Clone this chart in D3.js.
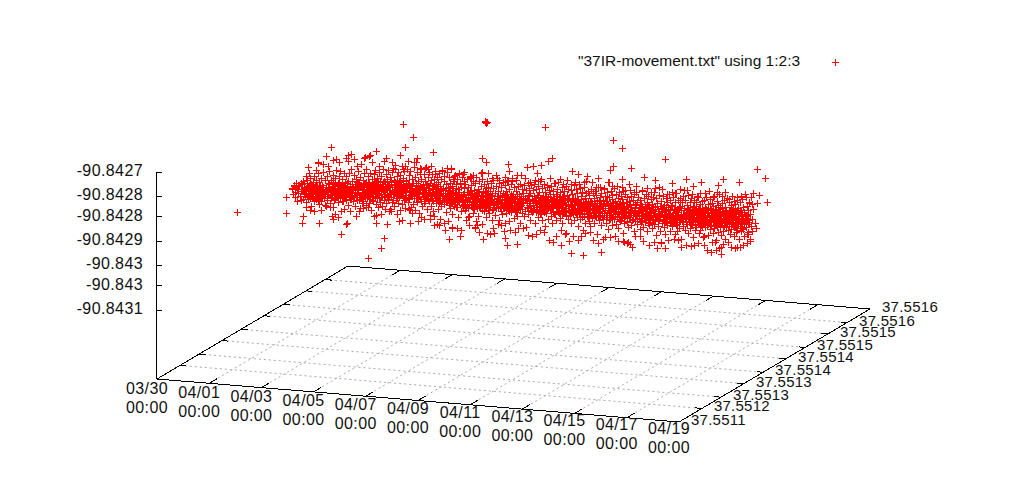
<!DOCTYPE html>
<html><head><meta charset="utf-8">
<script src="https://cdn.jsdelivr.net/npm/d3@7"></script>
<style>html,body{margin:0;background:#fff}svg{display:block}text{font-family:"Liberation Sans",sans-serif;font-size:16px;fill:#111}</style>
</head><body><svg id="c" width="1024" height="500"></svg>
<script>
const seriesName='"37IR-movement.txt" using 1:2:3';
const dateTicks=[0,2,4,6,8,10,12,14,16,18,20];
const dateLabels=["03/30","04/01","04/03","04/05","04/07","04/09","04/11","04/13","04/15","04/17","04/19"];
const latTicks=[37.5511,37.55116,37.55121,37.55127,37.55132,37.55138,37.55143,37.55149,37.55154,37.5516];
const latLabels=["37.5511","37.5512","37.5513","37.5513","37.5514","37.5514","37.5515","37.5515","37.5516","37.5516"];
const lonTicks=[-90.8427,-90.84277,-90.84283,-90.8429,-90.84297,-90.84303,-90.8431];
const lonLabels=["-90.8427","-90.8428","-90.8428","-90.8429","-90.843","-90.843","-90.8431"];
const latCentre=37.55135;
// days after 03/30, main cloud
const days=[
1.50,1.53,1.55,1.58,1.60,1.61,1.63,1.66,1.68,1.69,1.72,1.74,1.75,1.78,1.79,1.81,1.84,1.85,1.87,1.88,1.91,1.92,1.94,1.96,1.97,
1.99,2.01,2.02,2.05,2.06,2.08,2.10,2.11,2.13,2.16,2.17,2.19,2.20,2.22,2.25,2.26,2.28,2.29,2.32,2.33,2.35,2.37,2.38,2.40,2.42,
2.44,2.45,2.47,2.50,2.51,2.53,2.55,2.56,2.59,2.60,2.62,2.64,2.65,2.68,2.69,2.71,2.73,2.74,2.76,2.78,2.80,2.81,2.84,2.85,2.87,
2.89,2.90,2.93,2.94,2.96,2.98,3.00,3.01,3.03,3.05,3.07,3.08,3.10,3.12,3.14,3.15,3.17,3.19,3.21,3.22,3.24,3.26,3.28,3.30,3.31,
3.33,3.35,3.36,3.39,3.40,3.42,3.44,3.45,3.47,3.49,3.51,3.53,3.54,3.56,3.58,3.60,3.61,3.63,3.65,3.67,3.69,3.70,3.72,3.74,3.75,
3.78,3.79,3.81,3.83,3.84,3.86,3.89,3.90,3.92,3.93,3.96,3.97,3.99,4.01,4.03,4.04,4.06,4.08,4.10,4.11,4.13,4.15,4.17,4.18,4.20,
4.22,4.24,4.25,4.27,4.29,4.31,4.33,4.34,4.36,4.38,4.39,4.41,4.43,4.45,4.47,4.48,4.50,4.52,4.54,4.55,4.57,4.59,4.61,4.62,4.64,
4.66,4.68,4.69,4.71,4.73,4.75,4.77,4.78,4.80,4.82,4.83,4.85,4.87,4.89,4.91,4.92,4.94,4.96,4.98,4.99,5.01,5.03,5.05,5.06,5.08,
5.10,5.12,5.13,5.15,5.17,5.19,5.21,5.22,5.24,5.26,5.27,5.29,5.31,5.33,5.35,5.36,5.38,5.40,5.42,5.43,5.45,5.47,5.49,5.50,5.52,
5.54,5.56,5.57,5.59,5.61,5.63,5.65,5.66,5.68,5.70,5.71,5.73,5.75,5.77,5.79,5.80,5.82,5.84,5.86,5.87,5.89,5.91,5.93,5.94,5.96,
5.98,6.00,6.01,6.03,6.05,6.07,6.09,6.10,6.12,6.14,6.15,6.17,6.19,6.21,6.23,6.24,6.26,6.28,6.30,6.31,6.33,6.35,6.37,6.38,6.40,
6.42,6.44,6.45,6.47,6.49,6.51,6.53,6.54,6.56,6.58,6.59,6.61,6.63,6.65,6.67,6.68,6.70,6.72,6.74,6.75,6.77,6.79,6.81,6.82,6.84,
6.86,6.88,6.89,6.91,6.93,6.95,6.97,6.98,7.00,7.02,7.03,7.05,7.07,7.09,7.11,7.12,7.14,7.16,7.18,7.19,7.21,7.23,7.25,7.26,7.28,
7.30,7.32,7.33,7.35,7.37,7.39,7.41,7.42,7.44,7.46,7.47,7.49,7.51,7.53,7.55,7.56,7.58,7.60,7.62,7.63,7.65,7.67,7.69,7.70,7.72,
7.74,7.76,7.77,7.79,7.81,7.83,7.85,7.86,7.88,7.90,7.91,7.93,7.95,7.97,7.99,8.00,8.02,8.04,8.06,8.07,8.09,8.11,8.13,8.14,8.16,
8.18,8.20,8.21,8.23,8.25,8.27,8.29,8.30,8.32,8.34,8.35,8.37,8.39,8.41,8.43,8.44,8.46,8.48,8.50,8.51,8.53,8.55,8.57,8.58,8.60,
8.62,8.64,8.65,8.67,8.69,8.71,8.73,8.74,8.76,8.78,8.79,8.81,8.83,8.85,8.87,8.88,8.90,8.92,8.94,8.95,8.97,8.99,9.01,9.02,9.04,
9.06,9.08,9.09,9.11,9.13,9.15,9.17,9.18,9.20,9.22,9.23,9.25,9.27,9.29,9.31,9.32,9.34,9.36,9.38,9.39,9.41,9.43,9.45,9.46,9.48,
9.50,9.52,9.53,9.55,9.57,9.59,9.61,9.62,9.64,9.66,9.67,9.69,9.71,9.73,9.75,9.76,9.78,9.80,9.82,9.83,9.85,9.87,9.89,9.90,9.92,
9.94,9.96,9.97,9.99,10.01,10.03,10.05,10.06,10.08,10.10,10.11,10.13,10.15,10.17,10.19,10.20,10.22,10.24,10.26,10.27,10.29,10.31,10.33,10.34,10.36,
10.38,10.40,10.41,10.43,10.45,10.47,10.49,10.50,10.52,10.54,10.55,10.57,10.59,10.61,10.63,10.64,10.66,10.68,10.70,10.71,10.73,10.75,10.77,10.78,10.80,
10.82,10.84,10.85,10.87,10.89,10.91,10.93,10.94,10.96,10.98,10.99,11.01,11.03,11.05,11.07,11.08,11.10,11.12,11.14,11.15,11.17,11.19,11.21,11.22,11.24,
11.26,11.28,11.29,11.31,11.33,11.35,11.37,11.38,11.40,11.42,11.43,11.45,11.47,11.49,11.51,11.52,11.54,11.56,11.58,11.59,11.61,11.63,11.65,11.66,11.68,
11.70,11.72,11.73,11.75,11.77,11.79,11.81,11.82,11.84,11.86,11.87,11.89,11.91,11.93,11.95,11.96,11.98,12.00,12.02,12.03,12.05,12.07,12.09,12.10,12.12,
12.14,12.16,12.17,12.19,12.21,12.23,12.25,12.26,12.28,12.30,12.31,12.33,12.35,12.37,12.39,12.40,12.42,12.44,12.46,12.47,12.49,12.51,12.53,12.54,12.56,
12.58,12.60,12.61,12.63,12.65,12.67,12.69,12.70,12.72,12.74,12.75,12.77,12.79,12.81,12.83,12.84,12.86,12.88,12.90,12.91,12.93,12.95,12.97,12.98,13.00,
13.02,13.04,13.05,13.07,13.09,13.11,13.13,13.14,13.16,13.18,13.19,13.21,13.23,13.25,13.27,13.28,13.30,13.32,13.34,13.35,13.37,13.39,13.41,13.42,13.44,
13.46,13.48,13.49,13.51,13.53,13.55,13.57,13.58,13.60,13.62,13.63,13.65,13.67,13.69,13.71,13.72,13.74,13.76,13.78,13.79,13.81,13.83,13.85,13.86,13.88,
13.90,13.92,13.93,13.95,13.97,13.99,14.01,14.02,14.04,14.06,14.07,14.09,14.11,14.13,14.15,14.16,14.18,14.20,14.22,14.23,14.25,14.27,14.29,14.30,14.32,
14.34,14.36,14.37,14.39,14.41,14.43,14.45,14.46,14.48,14.50,14.51,14.53,14.55,14.57,14.59,14.60,14.62,14.64,14.66,14.67,14.69,14.71,14.73,14.74,14.76,
14.78,14.80,14.81,14.83,14.85,14.87,14.89,14.90,14.92,14.94,14.95,14.97,14.99,15.01,15.03,15.04,15.06,15.08,15.10,15.11,15.13,15.15,15.17,15.18,15.20,
15.22,15.24,15.25,15.27,15.29,15.31,15.33,15.34,15.36,15.38,15.39,15.41,15.43,15.45,15.47,15.48,15.50,15.52,15.54,15.55,15.57,15.59,15.61,15.62,15.64,
15.66,15.68,15.69,15.71,15.73,15.75,15.77,15.78,15.80,15.82,15.83,15.85,15.87,15.89,15.91,15.92,15.94,15.96,15.98,15.99,16.01,16.03,16.05,16.06,16.08,
16.10,16.12,16.13,16.15,16.17,16.19,16.21,16.22,16.24,16.26,16.27,16.29,16.31,16.33,16.35,16.36,16.38,16.40,16.42,16.43,16.45,16.47,16.49,16.50,16.52,
16.54,16.56,16.57,16.59,16.61,16.63,16.65,16.66,16.68,16.70,16.71,16.73,16.75,16.77,16.79,16.80,16.82,16.84,16.86,16.87,16.89,16.91,16.93,16.94,16.96,
16.98,17.00,17.01,17.03,17.05,17.07,17.09,17.10,17.12,17.14,17.15,17.17,17.19,17.21,17.23,17.24,17.26,17.28,17.30,17.31,17.33,17.35,17.37,17.38,17.40,
17.42,17.44,17.45,17.47,17.49,17.51,17.53,17.54,17.56,17.58,17.59,17.61,17.63,17.65,17.67,17.68,17.70,17.72,17.74,17.75,17.77,17.79,17.81,17.82,17.84,
17.86,17.88,17.89,17.91,17.93,17.95,17.97,17.98,18.00,18.02,18.03,18.05,18.07,18.09,18.11,18.12,18.14,18.16,18.18,18.19,18.21,18.23,18.25,18.26,18.28,
18.30,18.32,18.33,18.35,18.37,18.39,18.41,18.42,18.44,18.46,18.47,18.49,18.51,18.53,18.55,18.56,18.58,18.60,18.62,18.63,18.65,18.67,18.69,18.70,18.72,
18.74,18.76,18.77,18.79,18.81,18.83,18.85,18.86,18.88,18.90,18.91,18.93,18.95,18.97,18.99,19.00,19.02,19.04,19.06,19.07,19.09,19.11,19.13,19.14,19.16
];
// millionths of a degree west of -90.842, main cloud
const lonMicro=[
905,900,918,894,892,911,927,898,886,903,936,891,915,893,889,922,901,885,934,908,887,930,879,913,896,
882,920,906,864,938,895,874,912,929,853,889,917,901,868,947,884,910,923,877,899,862,933,891,914,905,
871,926,888,909,852,940,897,876,918,903,865,931,884,913,895,848,922,907,870,942,889,901,858,916,928,
879,905,893,843,934,912,867,921,886,899,853,945,874,908,926,862,891,917,838,903,882,930,910,856,895,
872,918,841,900,887,927,863,909,879,950,846,893,914,870,924,854,902,885,936,868,911,844,897,920,876,
889,831,907,865,925,883,848,912,896,939,858,873,904,921,835,890,867,916,881,943,852,909,876,898,928,
861,886,920,840,903,869,933,892,827,912,877,849,905,925,864,894,838,915,882,946,856,899,871,918,842,
886,908,829,865,927,891,851,910,875,936,834,897,862,919,880,845,906,872,931,823,889,858,914,868,901,
839,922,878,852,896,909,826,869,884,937,846,903,861,917,831,875,892,911,853,928,820,887,866,899,842,
905,873,830,918,857,889,940,836,864,896,812,922,878,845,908,868,826,884,931,850,901,818,873,913,859,
892,834,905,867,822,879,926,846,895,856,917,810,884,871,936,839,900,863,825,911,876,851,888,944,830,
866,903,843,815,880,923,857,893,829,870,914,848,886,808,897,861,930,837,875,906,822,853,890,919,844,
878,827,901,862,935,841,884,816,868,910,854,894,833,927,872,847,905,821,881,859,918,838,899,813,865,
886,843,912,829,870,896,853,934,818,877,905,862,831,890,848,922,874,806,883,857,939,836,898,868,842,
908,825,879,851,916,889,834,864,945,872,817,901,845,885,928,856,892,829,911,876,838,861,897,923,847,
884,906,870,832,917,855,895,941,866,823,888,908,848,874,931,836,899,862,919,881,843,953,873,826,905,
891,858,936,869,837,913,884,849,902,961,875,828,895,864,921,842,910,880,855,938,833,897,871,917,850,
888,925,861,903,839,876,946,893,853,915,829,884,907,867,931,845,898,875,822,911,859,943,886,836,902,
870,918,849,891,927,834,864,907,881,952,842,897,858,923,873,830,912,888,946,851,876,903,838,919,865,
893,827,908,874,936,845,886,915,857,899,823,871,929,841,905,863,883,948,834,894,877,918,849,906,860,
889,926,838,873,911,852,958,880,900,829,867,921,844,892,936,858,908,835,876,914,848,886,831,903,866,
943,883,912,846,897,861,925,836,878,905,854,889,820,917,870,934,842,899,863,909,828,886,951,851,874,
911,838,895,867,928,845,881,903,857,919,832,890,873,940,848,907,824,866,913,884,855,931,839,896,872,
906,821,886,862,923,847,899,875,938,833,912,858,881,904,843,968,869,893,829,917,855,887,925,838,901,
864,880,912,841,936,870,896,852,909,825,884,927,861,903,837,874,918,848,943,890,866,908,833,879,922,
855,897,842,915,872,954,887,828,905,860,931,846,893,876,912,838,882,925,851,899,867,940,831,908,874,
917,844,889,859,929,836,901,871,913,848,962,883,895,826,866,921,853,906,878,935,841,892,861,915,873,
830,903,848,885,926,864,911,838,897,875,944,852,919,869,889,834,908,857,932,845,900,879,824,915,862,
893,841,927,872,906,851,885,938,833,899,866,917,846,880,910,855,952,829,891,874,923,840,903,863,887,
919,846,876,934,858,905,827,893,870,928,842,883,911,853,897,836,945,866,914,878,831,900,859,922,888,
843,908,874,936,851,889,917,864,897,826,881,929,845,903,868,915,833,891,876,941,855,907,838,923,872,
885,913,848,896,861,932,840,879,905,827,918,869,887,950,843,899,856,925,874,910,834,893,865,937,882,
849,914,871,902,836,926,860,890,945,878,841,908,853,919,867,884,829,901,934,874,846,911,893,858,921,
836,889,906,869,942,851,897,825,915,878,933,844,886,908,862,923,838,895,955,871,849,903,830,917,884,
864,928,842,897,875,911,855,888,936,827,902,869,921,847,890,834,913,881,948,858,904,873,839,926,866,
893,918,846,880,907,831,935,862,897,851,924,874,888,913,840,901,868,943,836,883,915,856,892,829,909,
871,939,848,905,878,920,834,894,861,912,843,886,930,853,899,824,917,875,908,864,951,838,889,926,847,
902,868,816,913,881,935,842,896,857,922,875,905,831,888,944,851,910,866,893,825,919,879,838,906,860,
928,846,887,914,872,818,899,856,934,880,908,841,868,923,894,829,911,876,852,941,886,835,903,864,917,
874,826,895,912,849,931,862,884,810,906,871,925,843,897,857,919,833,889,938,868,902,816,880,915,851,
896,904,858,873,898,860,887,905,861,891,869,896,878,866,893,904,875,870,892,885,884,888,882,879,876
];
// extra points where the cloud reads as solid red
const coreDays=[
1.93,1.97,2.04,2.08,2.12,2.15,2.19,2.21,2.24,2.27,2.30,2.33,2.36,2.38,2.41,2.43,2.46,2.48,2.51,2.53,2.55,2.57,2.59,2.62,
3.02,3.05,3.08,3.13,3.16,3.18,3.22,3.25,3.27,3.31,3.34,3.36,3.39,3.42,3.45,3.48,3.50,3.53,3.57,3.60,3.62,3.67,3.71,3.76,
4.02,4.06,4.09,4.14,4.18,4.21,4.24,4.29,4.33,4.35,4.38,4.43,4.46,4.49,4.53,4.56,4.60,4.63,4.67,4.71,4.74,4.79,4.83,4.88,
5.01,5.05,5.08,5.12,5.17,5.20,5.24,5.28,5.31,5.34,5.38,5.41,5.45,5.49,5.52,5.55,5.59,5.63,5.66,5.71,5.74,5.78,5.83,5.88,
6.02,6.05,6.09,6.13,6.18,6.21,6.25,6.28,6.32,6.36,6.39,6.43,6.46,6.50,6.54,6.57,6.60,6.64,6.68,6.71,6.75,6.79,6.84,6.89,
7.03,7.07,7.10,7.15,7.18,7.22,7.27,7.31,7.34,7.37,7.41,7.45,7.48,7.52,7.56,7.59,7.62,7.66,7.70,7.73,7.77,7.81,7.85,7.89,
8.22,8.26,8.31,8.35,8.38,8.42,8.46,8.51,8.54,8.57,8.61,8.65,8.68,8.72,8.75,8.78,8.81,8.85,8.88,8.92,8.96,9.01,9.07,9.14,
9.51,9.55,9.58,9.62,9.66,9.69,9.73,9.76,9.79,9.83,9.87,9.90,9.94,9.98,10.01,10.05,10.08,10.12,10.16,10.20,10.24,10.28,10.33,10.38,
10.62,10.66,10.69,10.73,10.76,10.79,10.82,10.85,10.88,10.91,10.94,10.97,11.00,11.04,11.07,11.10,11.13,11.16,11.20,11.24,11.28,11.33,11.39,11.46,
11.61,11.65,11.68,11.72,11.75,11.79,11.83,11.86,11.89,11.93,11.96,12.00,12.03,12.07,12.10,12.13,12.17,12.20,12.24,12.27,12.30,12.34,12.37,12.41,
12.62,12.66,12.70,12.74,12.77,12.81,12.85,12.88,12.91,12.95,12.98,13.02,13.05,13.09,13.12,13.15,13.18,13.21,13.24,13.27,13.30,13.33,13.36,13.40,
13.61,13.65,13.68,13.72,13.76,13.79,13.83,13.87,13.90,13.94,13.97,14.01,14.04,14.08,14.11,14.15,14.18,14.21,14.25,14.28,14.31,14.34,14.37,14.41,
14.62,14.65,14.69,14.72,14.75,14.79,14.82,14.86,14.89,14.92,14.96,15.00,15.03,15.06,15.09,15.12,15.16,15.19,15.23,15.26,15.29,15.33,15.36,15.40,
15.62,15.66,15.70,15.73,15.77,15.81,15.84,15.87,15.91,15.94,15.98,16.02,16.05,16.09,16.12,16.16,16.19,16.22,16.26,16.29,16.32,16.35,16.38,16.41,
16.63,16.67,16.70,16.74,16.77,16.80,16.84,16.88,16.91,16.94,16.98,17.01,17.04,17.08,17.11,17.14,17.18,17.21,17.25,17.28,17.31,17.34,17.37,17.40,
17.60,17.63,17.65,17.68,17.71,17.73,17.75,17.78,17.80,17.83,17.86,17.88,17.91,17.93,17.96,17.99,18.01,18.03,18.06,18.08,18.11,18.14,18.17,18.20,
18.31,18.34,18.36,18.39,18.42,18.45,18.48,18.50,18.53,18.55,18.58,18.61,18.63,18.66,18.69,18.71,18.74,18.77,18.80,18.83,18.86,18.90,18.94,18.99
];
const coreLonMicro=[
908,915,897,921,903,889,912,926,895,906,884,918,901,893,924,909,887,913,899,920,905,891,917,902,
897,912,880,905,921,889,899,915,876,907,893,918,885,902,925,890,910,873,898,914,883,906,894,919,
884,896,871,905,889,915,878,899,866,892,908,881,874,901,886,917,869,893,880,904,863,888,910,876,
875,889,862,881,897,868,905,873,857,885,894,866,878,910,860,883,871,899,853,877,890,864,902,879,
880,893,866,874,902,885,858,890,871,899,877,863,908,883,869,895,874,856,888,903,867,879,892,861,
890,874,901,882,866,911,893,879,905,871,887,897,863,913,884,876,899,868,892,907,881,873,916,886,
895,880,908,886,872,899,914,877,891,903,868,884,910,896,875,889,919,881,905,866,893,878,900,887,
891,876,904,884,869,897,912,880,893,907,873,888,899,864,902,885,916,878,894,870,908,882,890,875,
886,901,874,893,911,867,884,897,879,905,863,889,914,876,892,871,899,883,908,866,895,880,903,888,
879,894,868,889,908,874,899,861,885,903,877,892,912,866,883,897,872,906,888,864,901,880,893,873,
893,876,904,884,869,897,913,880,891,907,866,887,900,875,909,882,894,863,899,878,889,906,871,885,
889,903,872,894,880,911,865,886,899,875,906,891,868,883,915,877,896,861,902,887,873,909,881,893,
882,898,869,892,907,876,886,913,864,896,879,904,889,871,900,884,918,866,893,875,908,881,897,888,
896,872,888,905,879,911,866,892,883,899,874,908,861,887,895,870,903,880,914,877,890,865,900,884,
877,893,868,886,903,874,896,860,889,908,871,883,899,865,892,878,911,869,886,904,875,894,862,881,
884,870,897,876,906,863,889,880,912,868,893,874,901,858,885,899,866,878,908,872,890,861,895,881,
872,889,860,896,878,905,866,884,871,915,857,892,876,899,863,886,908,869,881,894,874,888,879,885
];
// second pass over the solid part of the cloud
const fillDays=[
2.03,2.06,2.10,2.14,2.18,2.22,2.23,2.29,2.31,2.34,2.39,2.42,2.44,2.49,2.52,2.54,2.58,2.61,2.63,2.66,2.70,2.72,2.75,2.79,2.83,
2.88,2.91,2.95,2.99,3.03,3.06,3.09,3.11,3.15,3.20,3.23,3.26,3.29,3.32,3.35,3.38,3.41,3.44,3.47,3.52,3.55,3.59,3.61,3.64,3.68,
3.73,3.77,3.80,3.82,3.87,3.91,3.94,3.98,4.02,4.05,4.07,4.12,4.16,4.19,4.23,4.26,4.28,4.32,4.37,4.40,4.42,4.44,4.47,4.51,4.54,
4.58,4.60,4.65,4.67,4.70,4.74,4.76,4.81,4.84,4.86,4.90,4.93,4.95,4.97,5.00,5.04,5.07,5.09,5.14,5.16,5.18,5.23,5.25,5.30,5.34,
5.41,5.44,5.46,5.48,5.51,5.53,5.58,5.60,5.62,5.64,5.67,5.69,5.72,5.76,5.78,5.81,5.85,5.88,5.90,5.92,5.95,5.99,6.04,6.08,6.11,
6.27,6.29,6.34,6.36,6.41,6.43,6.48,6.52,6.55,6.60,6.62,6.66,6.69,6.73,6.76,6.78,6.80,6.83,6.87,6.90,6.92,6.94,6.99,7.04,7.06,
7.11,7.13,7.17,7.20,7.24,7.29,7.34,7.36,7.38,7.40,7.43,7.50,7.54,7.57,7.61,7.64,7.68,7.71,7.75,7.78,7.80,7.82,7.84,7.87,7.92,
7.98,8.03,8.05,8.08,8.10,8.12,8.15,8.19,8.24,8.28,8.33,8.36,8.40,8.45,8.47,8.49,8.52,8.56,8.59,8.63,8.66,8.70,8.72,8.74,8.77,
8.82,8.84,8.86,8.89,8.91,8.93,8.98,9.00,9.03,9.05,9.10,9.12,9.16,9.19,9.21,9.24,9.26,9.30,9.33,9.35,9.37,9.40,9.42,9.47,9.49,
9.66,9.68,9.70,9.72,9.74,9.77,9.81,9.84,9.86,9.88,9.91,9.93,9.95,10.00,10.02,10.04,10.07,10.09,10.14,10.18,10.21,10.23,10.25,10.30,10.35,
10.51,10.53,10.56,10.58,10.60,10.65,10.67,10.72,10.74,10.83,10.86,10.90,10.92,10.95,11.02,11.06,11.09,11.11,11.14,11.18,11.23,11.25,11.27,11.30,11.32,
11.36,11.41,11.44,11.48,11.50,11.53,11.55,11.57,11.60,11.62,11.64,11.67,11.69,11.74,11.76,11.78,11.80,11.85,11.88,11.90,11.92,11.97,11.99,12.04,12.11,
12.22,12.29,12.32,12.36,12.38,12.43,12.45,12.48,12.50,12.55,12.57,12.59,12.64,12.68,12.71,12.73,12.76,12.80,12.82,12.87,12.89,12.94,12.96,12.99,13.03,
13.06,13.08,13.10,13.17,13.20,13.22,13.26,13.29,13.31,13.38,13.43,13.45,13.47,13.50,13.52,13.54,13.59,13.64,13.66,13.70,13.73,13.75,13.80,13.82,13.84,
13.91,13.96,13.98,14.00,14.03,14.05,14.10,14.12,14.14,14.17,14.19,14.24,14.26,14.29,14.33,14.35,14.38,14.40,14.42,14.47,14.49,14.52,14.56,14.63,14.68,
14.77,14.82,14.84,14.88,14.91,14.93,14.98,15.02,15.05,15.07,15.13,15.14,15.20,15.21,15.28,15.31,15.35,15.37,15.42,15.44,15.46,15.51,15.53,15.56,15.58,
15.63,15.67,15.72,15.74,15.79,15.83,15.86,15.90,15.93,15.97,16.00,16.04,16.07,16.10,16.14,16.18,16.20,16.25,16.28,16.30,16.34,16.37,16.39,16.42,16.44,
16.48,16.51,16.53,16.58,16.62,16.64,16.69,16.72,16.76,16.78,16.81,16.83,16.86,16.90,16.93,16.97,17.00,17.03,17.06,17.09,17.13,17.16,17.20,17.23,17.27,
17.32,17.36,17.39,17.41,17.43,17.46,17.48,17.52,17.55,17.57,17.60,17.62,17.66,17.69,17.72,17.76,17.79,17.82,17.85,17.90,17.94,17.98,18.04,18.10,18.13,
18.17,18.22,18.24,18.29,18.32,18.35,18.38,18.40,18.43,18.47,18.52,18.54,18.57,18.60,18.64,18.68,18.70,18.73,18.75,18.79,18.82,18.85,18.88,18.92,18.96
];
const fillLonMicro=[
902,914,890,921,906,882,911,896,925,899,887,917,904,893,928,908,884,913,898,920,903,889,916,900,894,
895,910,881,902,917,888,898,922,875,906,892,913,884,901,919,890,909,878,896,915,886,904,872,899,912,
886,900,875,893,910,880,889,905,868,896,883,912,877,891,901,872,886,908,879,895,864,889,904,875,898,
878,892,866,884,903,872,895,861,881,899,869,887,906,875,863,890,879,897,866,883,901,871,893,858,885,
873,888,860,879,896,865,883,901,856,874,891,868,880,898,862,877,893,852,886,871,899,864,881,890,859,
880,895,868,887,903,872,884,860,892,876,908,866,889,899,874,863,885,896,870,882,905,857,891,878,867,
888,874,901,884,867,895,910,879,891,864,898,886,872,906,881,894,869,913,877,889,862,900,883,896,871,
893,908,880,897,871,905,886,918,876,899,889,865,912,884,894,873,903,881,916,869,898,887,907,878,891,
893,880,906,874,899,912,885,869,896,908,878,890,917,872,902,884,895,866,910,881,899,875,888,905,892,
890,904,877,896,866,908,884,915,873,899,881,893,870,906,887,912,876,897,863,889,901,879,894,869,885,
888,875,901,882,865,896,909,878,892,871,904,886,913,869,897,881,890,906,874,884,899,862,893,877,887,
885,899,871,893,906,866,881,912,875,889,896,862,884,901,877,908,868,891,880,895,872,904,886,864,898,
886,900,873,893,909,867,882,896,876,905,888,863,899,880,912,871,890,884,902,869,894,878,907,874,889,
888,902,876,893,866,908,882,897,871,911,885,899,869,890,878,904,863,895,883,914,874,889,900,868,892,
889,875,903,884,912,870,896,880,907,864,893,877,901,887,916,872,899,882,868,905,891,876,910,885,895,
890,905,877,896,869,912,884,898,873,908,888,865,901,882,894,915,871,887,903,876,899,867,892,881,906,
888,874,901,866,892,908,879,895,871,885,912,863,898,882,904,869,889,877,906,873,893,860,900,884,896,
884,898,870,891,905,863,879,901,873,888,911,866,894,881,857,896,876,903,868,886,899,872,890,861,907,
880,893,865,887,902,870,896,858,883,908,874,889,862,899,877,892,868,904,881,855,895,872,886,899,864,
876,890,860,884,899,866,879,906,871,852,893,882,862,897,875,888,857,903,869,884,896,863,878,892,872
];
// thin scattered edge of the cloud, above and below the solid part
const edgeDays=[
2.05,2.44,2.63,2.91,3.15,3.33,3.52,3.88,4.07,4.26,4.41,4.58,4.92,5.11,5.30,5.47,5.71,5.96,6.13,6.40,6.56,6.85,7.05,7.26,7.48,7.71,7.98,8.11,8.30,8.46,8.68,9.03,9.22,9.44,9.62,9.95,10.17,10.44,10.70,10.93,11.15,11.41,11.62,11.90,12.11,12.36,12.58,12.79,13.04,13.30,13.52,13.76,14.02,14.27,14.48,14.71,14.98,15.25,15.49,15.70,15.93,16.20,16.43,16.66,16.91,17.14,17.42,17.63,17.86,18.10,18.33,18.56,18.78,19.02,
2.12,2.35,2.71,2.98,3.21,3.40,3.66,3.95,4.16,4.35,4.52,4.75,5.02,5.22,5.39,5.60,5.84,6.04,6.26,6.47,6.73,6.96,7.14,7.33,7.59,7.85,8.05,8.24,8.39,8.59,8.80,9.11,9.33,9.52,9.78,10.06,10.29,10.57,10.81,11.02,11.29,11.52,11.77,12.01,12.22,12.47,12.69,12.92,13.17,13.41,13.64,13.89,14.14,14.39,14.60,14.83,15.11,15.37,15.58,15.82,16.08,16.31,16.55,16.79,17.02,17.28,17.50,17.74,17.97,18.22,18.44,18.67,18.89,19.08,
2.20,2.52,2.80,3.07,3.27,3.59,3.74,4.00,4.22,4.47,4.65,4.85,5.08,5.34,5.52,5.77,6.00,6.18,6.34,6.62,6.79,7.00,7.20,7.44,7.65,7.92,8.17,8.34,8.53,8.75,8.97,9.16,9.40,9.68,9.88,10.12,10.37,10.62,10.87,11.07,11.35,11.58,11.83,12.06,12.29,12.52,12.74,12.99,13.23,13.47,13.70,13.96,14.20,14.44,14.66,14.91,15.18,15.43,15.65,15.88,16.14,16.38,16.60,16.85,17.08,17.33,17.57,17.80,18.03,18.27,18.50,18.72,18.94,19.12
];
const edgeLonMicro=[
951,843,958,829,965,814,948,802,951,797,938,806,954,790,945,808,968,795,943,812,960,804,972,816,958,826,981,812,966,821,985,809,968,829,976,818,963,815,984,822,969,811,977,825,987,816,972,809,981,823,968,819,975,828,983,812,971,826,987,815,962,824,978,811,969,818,982,826,973,808,967,821,958,835,
836,963,824,948,806,956,793,968,814,939,786,960,801,945,818,972,809,936,797,955,812,949,823,965,807,976,818,944,827,963,809,988,815,957,826,974,808,981,819,962,830,995,812,967,821,983,814,958,825,973,809,964,818,978,831,956,816,971,809,986,822,960,813,975,827,968,811,979,820,954,834,966,818,945,
960,820,945,810,973,801,954,822,943,789,962,815,939,802,951,818,934,796,966,810,947,825,955,807,978,819,952,829,969,812,984,823,955,817,971,810,962,828,977,815,989,824,958,811,973,820,961,813,986,826,966,816,975,809,958,824,980,814,969,828,956,811,973,822,963,817,985,812,959,827,970,816,951,838
];
// isolated points
const strayDays=[5.77,6.15,5.84,3.01,2.82,3.77,4.73,4.31,5.65,6.30,6.92,3.66,2.51,8.90,8.92,8.93,8.95,8.97,8.93,8.79,8.95,9.79,9.83,10.52,
3.39,5.04,4.92,4.43,3.62,3.60,7.95,7.53,8.83,9.75,10.13,9.67,9.25,8.52,6.95,7.15,7.38,7.64,1.28,1.28,1.90,2.55,3.08,1.93,3.05,4.73,5.15,6.03,6.80,
11.21,13.81,14.16,15.80,19.33,19.64,19.71,13.81,13.70,14.50,11.48,11.32,11.05,10.75,10.90,12.24,12.47,12.82,11.82,12.20,12.66,13.35,17.95,18.56,17.95,14.54,14.23,14.35,15.65,17.60,17.72,17.26,
14.16,15.00,15.42,16.07,16.61,18.03,18.64,17.18,17.84,19.41,19.18,19.33,19.25,18.99,19.29,16.88,13.62,13.24];
const strayLonMicro=[689,724,755,772,800,788,773,793,779,784,763,809,822,663,660,663,666,663,666,768,779,780,800,784,
1022,1024,1053,1086,989,992,1000,1011,1003,1014,1009,995,983,973,974,973,986,976,928,974,1000,996,981,979,972,982,982,974,958,
663,685,706,728,734,759,828,760,772,762,752,761,774,779,799,785,792,795,1002,1023,1026,1012,990,966,969,990,978,980,972,957,956,945,
796,785,791,795,781,772,777,786,790,810,805,833,892,925,906,799,808,799];
// one point that sits away from the cloud, towards the left edge
const farDay=[0.28], farLat=[37.55129], farLonMicro=[939];

const svg=d3.select("#c");
const dayT=d3.scaleLinear().domain([0,20]).range([0,1]);
const latT=d3.scaleLinear().domain([37.5511,37.5516]).range([0,1]);
const lonY=d3.scaleLinear().domain([-90.8427,-90.8431]).range([172,310]);
const floorY=379;
const project=(day,lat,baseY)=>[157+522*dayT(day)+191*latT(lat), baseY+43*dayT(day)-113*latT(lat)];
const lonFrom=m=>-90.842-m/1e6;
const [latMin,latMax]=latT.domain(), [dayMin,dayMax]=dayT.domain();

// grid
const grid=svg.append("g").attr("fill","none").attr("stroke","#a8a8a8").attr("stroke-dasharray","2,3");
const line=d3.line();
grid.selectAll(".gx").data(dateTicks.slice(1,-1)).join("path")
  .attr("d",d=>line([project(d,latMin,floorY),project(d,latMax,floorY)]));
grid.selectAll(".gy").data(latTicks.slice(1,-1)).join("path")
  .attr("d",l=>line([project(dayMin,l,floorY),project(dayMax,l,floorY)]));

// floor frame and ticks
const frame=svg.append("g").attr("fill","none").attr("stroke","#000").attr("shape-rendering","crispEdges");
frame.append("path").attr("d",line([project(dayMin,latMin,floorY),project(dayMax,latMin,floorY),project(dayMax,latMax,floorY),project(dayMin,latMax,floorY)])+"Z");
frame.selectAll(".tx").data(dateTicks).join("path").attr("d",d=>
  line([project(d,latMin,floorY),project(d,latMin+0.00002,floorY)])+line([project(d,latMax,floorY),project(d,latMax-0.00002,floorY)]));
frame.selectAll(".ty").data(latTicks).join("path").attr("d",l=>
  line([project(dayMin,l,floorY),project(dayMin+0.25,l,floorY)])+line([project(dayMax,l,floorY),project(dayMax-0.25,l,floorY)]));
// vertical axis
frame.append("path").attr("d",line([[156.5,lonY(lonTicks[0])],[156.5,floorY]]));
frame.selectAll(".tz").data(lonTicks).join("path").attr("d",v=>line([[156.5,lonY(v)],[162,lonY(v)]]));

// labels
svg.selectAll(".zl").data(lonTicks).join("text").attr("x",143).attr("y",v=>lonY(v)+4)
  .attr("text-anchor","end").attr("letter-spacing","0.4").text((v,i)=>lonLabels[i]);
const labelY=d3.scaleLinear().domain([0,20]).range([393.5,433.5]);
const xl=svg.selectAll(".xl").data(dateTicks).join("text").attr("text-anchor","middle").attr("letter-spacing","0.4");
xl.append("tspan").attr("x",d=>project(d,latMin,floorY)[0]-10).attr("y",d=>labelY(d)).text((d,i)=>dateLabels[i]);
xl.append("tspan").attr("x",d=>project(d,latMin,floorY)[0]-10).attr("y",d=>labelY(d)+19).text("00:00");
svg.selectAll(".yl").data(latTicks).join("text")
  .attr("x",l=>project(dayMax,l,floorY)[0]+12).attr("y",l=>project(dayMax,l,floorY)[1]+3)
  .style("font-size","15px").attr("letter-spacing","0.25").text((l,i)=>latLabels[i]);

// points
const plus="M-3.5,0H3.5M0,-3.5V3.5";
const at=(ds,ms)=>ds.map((d,i)=>({d,lat:latCentre,lon:lonFrom(ms[i])})).filter(p=>!isNaN(p.lon));
const pts=[
  ...at(days,lonMicro),...at(coreDays,coreLonMicro),...at(fillDays,fillLonMicro),...at(edgeDays,edgeLonMicro),...at(strayDays,strayLonMicro),
  ...farDay.map((d,i)=>({d,lat:farLat[i],lon:lonFrom(farLonMicro[i])}))
];
svg.append("g").attr("stroke","#f00").attr("fill","none").attr("shape-rendering","crispEdges")
  .selectAll("path").data(pts).join("path")
  .attr("d",plus)
  .attr("transform",p=>{const [x,y]=project(p.d,p.lat,lonY(p.lon));return `translate(${Math.round(x)+.5},${Math.round(y)+.5})`;});

// legend
svg.append("text").attr("x",578).attr("y",66).style("font-size","15.5px").text(seriesName);
svg.append("path").attr("d",plus).attr("stroke","#f00").attr("shape-rendering","crispEdges").attr("transform","translate(835.5,62.5)");
</script></body></html>
